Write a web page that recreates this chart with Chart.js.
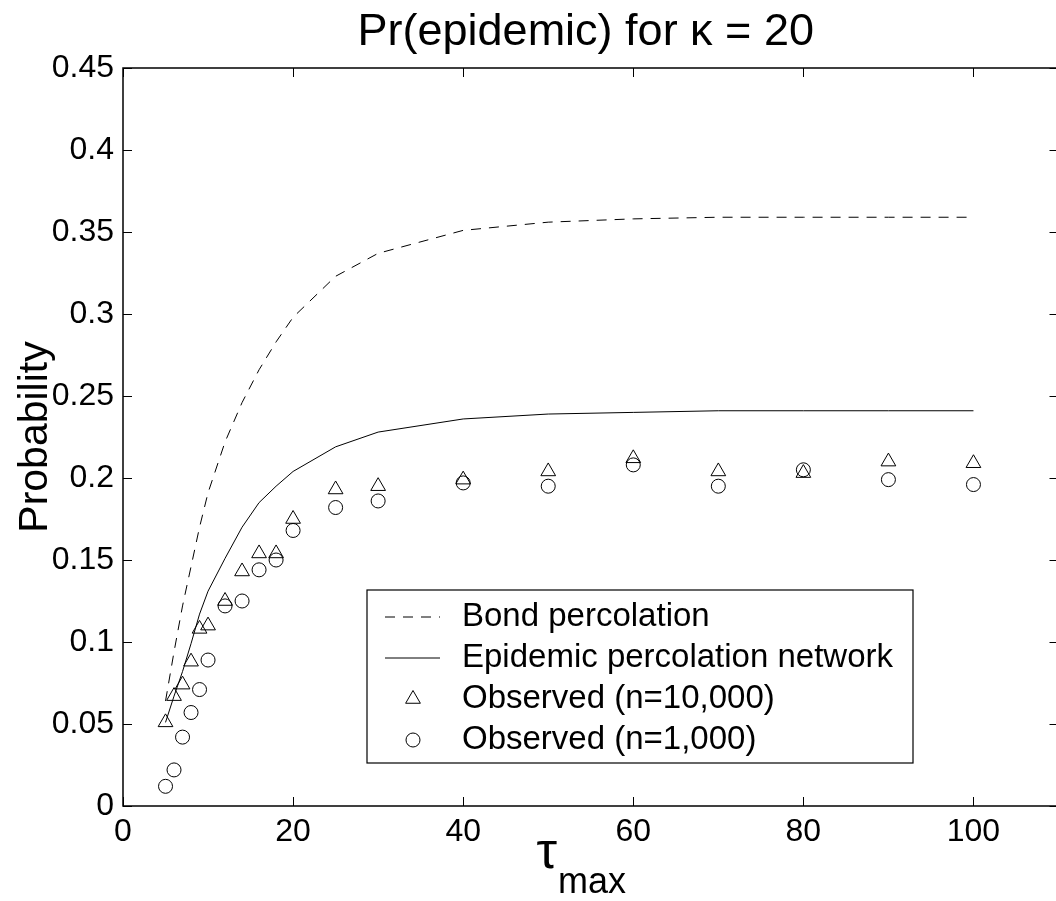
<!DOCTYPE html>
<html lang="en">
<head>
<meta charset="UTF-8">
<title>Pr(epidemic) for κ = 20</title>
<script src="https://cdn.jsdelivr.net/npm/chart.js@4"></script>
<style>
  html, body { margin: 0; padding: 0; background: #fff; overflow: hidden; }
  #wrap { position: absolute; left: 0; top: 0; width: 1068px; height: 901px; }
</style>
</head>
<body>
<div id="wrap"><canvas id="epiChart"></canvas></div>
<script>
// tau_max values where everything was evaluated
const tauMax = [5, 6, 7, 8, 9, 10, 12, 14, 16, 18, 20, 25, 30, 40, 50, 60, 70, 80, 90, 100];

// model curves
const bondPerc = [0.064, 0.094, 0.122, 0.146, 0.170, 0.191, 0.222, 0.246, 0.266, 0.283,
                  0.298, 0.323, 0.337, 0.351, 0.356, 0.358, 0.359, 0.359, 0.359, 0.359];
const epidemicNet = [0.051, 0.067, 0.082, 0.099, 0.117, 0.131, 0.151, 0.170, 0.185, 0.195,
                     0.204, 0.219, 0.228, 0.236, 0.239, 0.240, 0.241, 0.241, 0.241, 0.241];

// simulations
const obs10000 = [0.051, 0.067, 0.074, 0.088, 0.108, 0.110, 0.125, 0.143, 0.154, 0.154,
                  0.175, 0.193, 0.195, 0.199, 0.204, 0.212, 0.204, 0.203, 0.210, 0.209];
const obs1000 = [0.012, 0.022, 0.042, 0.057, 0.071, 0.089, 0.122, 0.125, 0.144, 0.150,
                 0.168, 0.182, 0.186, 0.197, 0.195, 0.208, 0.195, 0.205, 0.199, 0.196];

// axes
const xTicks = [0, 20, 40, 60, 80, 100];
const yTicks = [0, 0.05, 0.1, 0.15, 0.2, 0.25, 0.3, 0.35, 0.4, 0.45];
const yTickLabels = ['0', '0.05', '0.1', '0.15', '0.2', '0.25', '0.3', '0.35', '0.4', '0.45'];

const FONT = '"Liberation Sans", Arial, Helvetica, sans-serif';

function toPoints(ys) {
    return tauMax.map((t, i) => ({ x: t, y: ys[i] }));
}

// box, inward ticks, legend and titles (MATLAB look)
const matlabFrame = {
    id: 'matlabFrame',
    afterDatasetsDraw(chart) {
        const { ctx, chartArea: a, scales } = chart;
        const x = scales.x, y = scales.y;
        ctx.save();
        ctx.strokeStyle = '#000';
        ctx.lineWidth = 1.5;
        ctx.strokeRect(a.left, a.top, a.right - a.left, a.bottom - a.top);

        ctx.lineWidth = 1;
        ctx.beginPath();
        xTicks.forEach(v => {
            const px = Math.round(x.getPixelForValue(v)) + 0.5;
            ctx.moveTo(px, a.bottom); ctx.lineTo(px, a.bottom - 9);
            ctx.moveTo(px, a.top); ctx.lineTo(px, a.top + 9);
        });
        yTicks.forEach(v => {
            const py = Math.round(y.getPixelForValue(v)) + 0.5;
            ctx.moveTo(a.left, py); ctx.lineTo(a.left + 9, py);
            ctx.moveTo(a.right, py); ctx.lineTo(a.right - 9, py);
        });
        ctx.stroke();

        // legend box
        const lx = 367, ly = 590, lw = 546, lh = 173;
        ctx.fillStyle = '#fff';
        ctx.fillRect(lx, ly, lw, lh);
        ctx.lineWidth = 1.2;
        ctx.strokeRect(lx, ly, lw, lh);

        ctx.font = '33px ' + FONT;
        ctx.textBaseline = 'middle';
        ctx.textAlign = 'left';
        chart.data.datasets.forEach((ds, i) => {
            const ry = ly + 27 + i * 41;
            ctx.strokeStyle = '#000';
            ctx.lineWidth = 1;
            if (ds.showLine) {
                ctx.setLineDash(ds.borderDash || []);
                ctx.beginPath();
                ctx.moveTo(385, ry); ctx.lineTo(440, ry);
                ctx.stroke();
                ctx.setLineDash([]);
            } else {
                const r = ds.pointRadius;
                ctx.beginPath();
                if (ds.pointStyle === 'triangle') {
                    ctx.moveTo(413, ry - r);
                    ctx.lineTo(413 + r * 0.866, ry + r / 2);
                    ctx.lineTo(413 - r * 0.866, ry + r / 2);
                    ctx.closePath();
                } else {
                    ctx.arc(413, ry, r, 0, Math.PI * 2);
                }
                ctx.stroke();
            }
            ctx.fillStyle = '#000';
            ctx.fillText(ds.label, 462, ry);
        });
        ctx.restore();
    },
    afterDraw(chart) {
        const { ctx, chartArea: a } = chart;
        const cx = (a.left + a.right) / 2;
        ctx.save();
        ctx.fillStyle = '#000';

        // title
        ctx.font = '45px ' + FONT;
        ctx.textAlign = 'center';
        ctx.textBaseline = 'alphabetic';
        ctx.fillText('Pr(epidemic) for κ = 20', cx - 5, 45);

        // y title
        ctx.save();
        ctx.translate(47, (a.top + a.bottom) / 2);
        ctx.rotate(-Math.PI / 2);
        ctx.font = '41px ' + FONT;
        ctx.fillText('Probability', 0, 0);
        ctx.restore();

        // x title: tau with subscript max
        ctx.textAlign = 'left';
        ctx.font = '52px ' + FONT;
        const wTau = ctx.measureText('τ').width;
        ctx.font = '36px ' + FONT;
        const wMax = ctx.measureText('max').width;
        const x0 = cx - 10 - (wTau + wMax) / 2;
        ctx.font = '52px ' + FONT;
        ctx.fillText('τ', x0, 868);
        ctx.font = '36px ' + FONT;
        ctx.fillText('max', x0 + wTau + 1, 893);
        ctx.restore();
    }
};

const ctx = document.getElementById('epiChart').getContext('2d');
const epiChart = new Chart(ctx, {
    type: 'scatter',
    data: {
        datasets: [
            {
                label: 'Bond percolation',
                data: toPoints(bondPerc),
                showLine: true,
                borderColor: '#000',
                borderWidth: 1,
                borderDash: [10, 8],
                pointRadius: 0,
                tension: 0
            },
            {
                label: 'Epidemic percolation network',
                data: toPoints(epidemicNet),
                showLine: true,
                borderColor: '#000',
                borderWidth: 1,
                pointRadius: 0,
                tension: 0
            },
            {
                label: 'Observed (n=10,000)',
                data: toPoints(obs10000),
                showLine: false,
                pointStyle: 'triangle',
                pointRadius: 8.5,
                pointBorderWidth: 1,
                pointBorderColor: '#000',
                pointBackgroundColor: 'rgba(0,0,0,0)'
            },
            {
                label: 'Observed (n=1,000)',
                data: toPoints(obs1000),
                showLine: false,
                pointStyle: 'circle',
                pointRadius: 7,
                pointBorderWidth: 1,
                pointBorderColor: '#000',
                pointBackgroundColor: 'rgba(0,0,0,0)'
            }
        ]
    },
    options: {
        responsive: true,
        maintainAspectRatio: false,
        animation: false,
        devicePixelRatio: 1,
        layout: { padding: { left: 0, top: 68, right: 1, bottom: 0 } },
        plugins: {
            legend: { display: false },
            title: { display: false },
            tooltip: { enabled: false }
        },
        scales: {
            x: {
                type: 'linear',
                min: 0,
                max: 110,
                afterBuildTicks: s => { s.ticks = xTicks.map(v => ({ value: v })); },
                afterFit: s => { s.height = 95; },
                grid: { display: false, drawTicks: false },
                border: { display: false },
                ticks: { color: '#000', font: { family: FONT, size: 32 }, padding: 7, maxRotation: 0, autoSkip: false }
            },
            y: {
                type: 'linear',
                min: 0,
                max: 0.45,
                afterBuildTicks: s => { s.ticks = yTicks.map(v => ({ value: v })); },
                afterFit: s => { s.width = 123; },
                grid: { display: false, drawTicks: false },
                border: { display: false },
                ticks: {
                    color: '#000', font: { family: FONT, size: 32 }, padding: 9, autoSkip: false,
                    callback: (v, i) => yTickLabels[i]
                }
            }
        }
    },
    plugins: [matlabFrame]
});
</script>
</body>
</html>
